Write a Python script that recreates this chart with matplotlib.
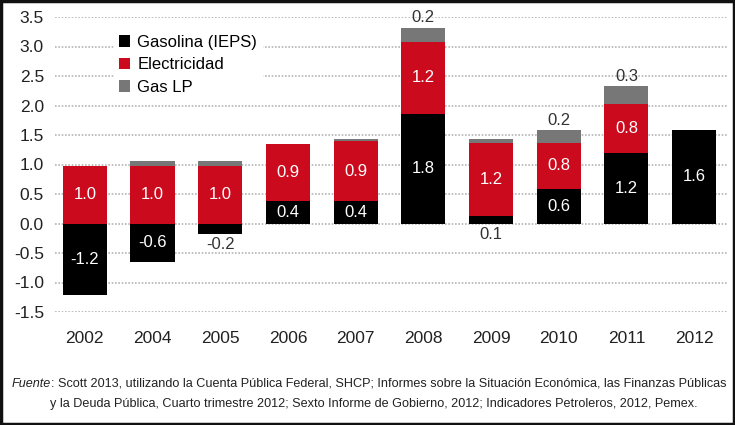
import numpy as np
import matplotlib.pyplot as plt
from matplotlib.patches import Rectangle
from matplotlib import font_manager

names = {f.name for f in font_manager.fontManager.ttflist}
narrow = 'Liberation Sans Narrow' if 'Liberation Sans Narrow' in names else 'Liberation Sans'
plt.rcParams['font.family'] = [narrow, 'DejaVu Sans']

years = ['2002', '2004', '2005', '2006', '2007', '2008', '2009', '2010', '2011', '2012']
gasolina = [-1.22, -0.65, -0.17, 0.38, 0.38, 1.86, 0.13, 0.59, 1.19, 1.58]
electricidad = [0.98, 0.98, 0.98, 0.97, 1.01, 1.22, 1.23, 0.78, 0.84, 0.0]
gas_lp = [0.0, 0.08, 0.08, 0.0, 0.05, 0.24, 0.08, 0.21, 0.30, 0.0]

gasolina_lbl = ['-1.2', '-0.6', '-0.2', '0.4', '0.4', '1.8', '0.1', '0.6', '1.2', '1.6']
electricidad_lbl = ['1.0', '1.0', '1.0', '0.9', '0.9', '1.2', '1.2', '0.8', '0.8', None]
gas_lp_lbl = [None, None, None, None, None, '0.2', None, '0.2', '0.3', None]

c_gas = '#000000'
c_elec = '#cc0a1e'
c_lp = '#777777'
txt_dark = '#333333'

fig = plt.figure(figsize=(7.35, 4.25), dpi=100)
ax = fig.add_axes([55 / 735, 1 - 312 / 425, 673 / 735, 295 / 425])

x = np.arange(len(years))
w = 0.65
g = np.array(gasolina)
e = np.array(electricidad)
lp = np.array(gas_lp)
base_e = np.maximum(g, 0)
base_lp = base_e + e

ax.bar(x, g, w, color=c_gas, label='Gasolina (IEPS)', zorder=3)
ax.bar(x, e, w, bottom=base_e, color=c_elec, label='Electricidad', zorder=3)
ax.bar(x, lp, w, bottom=base_lp, color=c_lp, label='Gas LP', zorder=3)

fs = 12
for i in range(len(years)):
    # gasolina
    if abs(g[i]) < 0.25:
        ax.text(x[i], min(g[i], 0) - 0.06, gasolina_lbl[i], ha='center', va='top',
                color=txt_dark, fontsize=fs, zorder=4)
    else:
        ax.text(x[i], g[i] / 2, gasolina_lbl[i], ha='center', va='center',
                color='white', fontsize=fs, zorder=4)
    if electricidad_lbl[i]:
        ax.text(x[i], base_e[i] + e[i] / 2, electricidad_lbl[i], ha='center', va='center',
                color='white', fontsize=fs, zorder=4)
    if gas_lp_lbl[i]:
        ax.text(x[i], base_lp[i] + lp[i] + 0.04, gas_lp_lbl[i], ha='center', va='bottom',
                color=txt_dark, fontsize=fs, zorder=4)

ax.set_ylim(-1.5, 3.5)
ax.set_xlim(-0.44, 9.5)
ax.set_yticks(np.arange(-1.5, 3.51, 0.5))
ax.set_yticklabels([f'{v:.1f}' for v in np.arange(-1.5, 3.51, 0.5)])
ax.set_xticks(x)
ax.set_xticklabels(years)
ax.tick_params(axis='both', length=0, labelsize=12.5, colors='#222222')
ax.tick_params(axis='x', pad=14)
ax.tick_params(axis='y', pad=8)
for s in ax.spines.values():
    s.set_visible(False)
ax.yaxis.grid(True, linestyle=(0, (1, 1)), color='#b5b5b5', linewidth=1.2, zorder=0)
ax.set_axisbelow(True)

leg = ax.legend(loc='upper left', bbox_to_anchor=(0.075, 0.985), frameon=True,
                fontsize=12, handlelength=0.7, handleheight=0.7, handletextpad=0.4,
                labelspacing=0.45, borderpad=0.3)
leg.get_frame().set_facecolor('white')
leg.get_frame().set_edgecolor('white')
leg.get_frame().set_alpha(1)

# footnote, sized to fit the width used in the reference
fig.canvas.draw()
r = fig.canvas.get_renderer()
W = fig.bbox.width
line1 = ': Scott 2013, utilizando la Cuenta Pública Federal, SHCP; Informes sobre la Situación Económica, las Finanzas Públicas'
line2 = 'y la Deuda Pública, Cuarto trimestre 2012; Sexto Informe de Gobierno, 2012; Indicadores Petroleros, 2012, Pemex.'

fn = 10
t1 = fig.text(0, 0, 'Fuente', fontsize=fn, style='italic')
t2 = fig.text(0, 0, line1, fontsize=fn)
width = t1.get_window_extent(renderer=r).width + t2.get_window_extent(renderer=r).width
fn = fn * 712 / width
t1.remove()
t2.remove()

y1 = 1 - 384 / 425
t1 = fig.text(12 / W, y1, 'Fuente', fontsize=fn, style='italic',
              va='center', ha='left', color='#222222')
bb = t1.get_window_extent(renderer=r)
fig.text(bb.x1 / W, y1, line1, fontsize=fn, va='center', ha='left', color='#222222')
fig.text(374 / W, 1 - 404 / 425, line2, fontsize=fn, va='center', ha='center', color='#222222')

fig.patches.append(Rectangle((0.002, 0.003), 0.996, 0.994, transform=fig.transFigure,
                             fill=False, edgecolor='#111111', linewidth=2.5))

fig.savefig('out.png', dpi=100)
